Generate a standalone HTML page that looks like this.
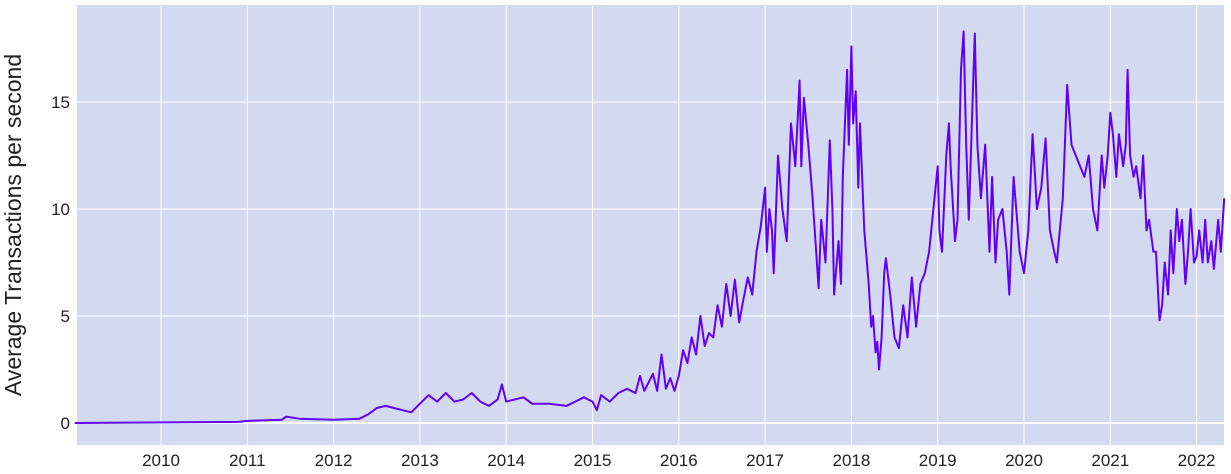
<!DOCTYPE html>
<html><head><meta charset="utf-8"><style>
body{margin:0;background:#fff;font-family:"Liberation Sans",sans-serif;}
svg{display:block}
</style></head><body>
<svg id="chart" width="1231" height="474">
<rect x="77" y="5" width="1147" height="440" fill="#d3d9ee"/>
<g id="grid"></g><g id="series"></g><g id="axes"></g>
<text transform="translate(21,225) rotate(-90)" text-anchor="middle" font-size="23" fill="#222">Average Transactions per second</text>
</svg>
<script>
const years=[2009.0,2010.9,2011.0,2011.4,2011.45,2011.6,2012.0,2012.3,2012.4,2012.5,2012.6,2012.8,2012.9,2013.0,2013.1,2013.2,2013.3,2013.4,2013.5,2013.6,2013.7,2013.8,2013.9,2013.95,2014.0,2014.2,2014.3,2014.5,2014.7,2014.9,2015.0,2015.05,2015.1,2015.2,2015.3,2015.4,2015.5,2015.55,2015.6,2015.7,2015.75,2015.8,2015.85,2015.9,2015.95,2016.0,2016.05,2016.1,2016.15,2016.2,2016.25,2016.3,2016.35,2016.4,2016.45,2016.5,2016.55,2016.6,2016.65,2016.7,2016.75,2016.8,2016.85,2016.9,2016.95,2017.0,2017.02,2017.05,2017.08,2017.1,2017.15,2017.2,2017.25,2017.3,2017.35,2017.4,2017.42,2017.45,2017.5,2017.55,2017.6,2017.62,2017.65,2017.7,2017.75,2017.78,2017.8,2017.85,2017.88,2017.9,2017.95,2017.97,2018.0,2018.02,2018.05,2018.08,2018.1,2018.15,2018.2,2018.23,2018.25,2018.28,2018.3,2018.32,2018.35,2018.38,2018.4,2018.45,2018.5,2018.55,2018.6,2018.65,2018.7,2018.75,2018.8,2018.85,2018.9,2018.95,2019.0,2019.02,2019.05,2019.1,2019.13,2019.15,2019.2,2019.23,2019.27,2019.3,2019.33,2019.36,2019.4,2019.43,2019.46,2019.5,2019.55,2019.6,2019.63,2019.67,2019.7,2019.75,2019.8,2019.83,2019.88,2019.92,2019.95,2020.0,2020.05,2020.1,2020.15,2020.2,2020.25,2020.3,2020.35,2020.38,2020.45,2020.5,2020.55,2020.6,2020.65,2020.7,2020.75,2020.8,2020.85,2020.9,2020.93,2020.97,2021.0,2021.03,2021.07,2021.1,2021.15,2021.18,2021.2,2021.23,2021.27,2021.3,2021.35,2021.38,2021.42,2021.45,2021.5,2021.53,2021.57,2021.6,2021.63,2021.67,2021.7,2021.73,2021.77,2021.8,2021.83,2021.87,2021.9,2021.93,2021.97,2022.0,2022.03,2022.07,2022.1,2022.13,2022.17,2022.2,2022.25,2022.28,2022.32];
const tps=[0,0.05,0.1,0.15,0.3,0.2,0.15,0.2,0.4,0.7,0.8,0.6,0.5,0.9,1.3,1.0,1.4,1.0,1.1,1.4,1.0,0.8,1.1,1.8,1.0,1.2,0.9,0.9,0.8,1.2,1.0,0.6,1.3,1.0,1.4,1.6,1.4,2.2,1.5,2.3,1.5,3.2,1.6,2.1,1.5,2.2,3.4,2.8,4.0,3.2,5.0,3.6,4.2,4.0,5.5,4.5,6.5,5.0,6.7,4.7,5.8,6.8,6.0,8.0,9.2,11.0,8.0,10.0,9.0,7.0,12.5,10.0,8.5,14.0,12.0,16.0,12.0,15.2,13.0,10.5,7.5,6.3,9.5,7.5,13.2,10.0,6.0,8.5,6.5,11.5,16.5,13.0,17.6,14.0,15.5,11.0,14.0,9.0,6.5,4.5,5.0,3.3,3.8,2.5,4.0,7.0,7.7,6.0,4.0,3.5,5.5,4.0,6.8,4.5,6.5,7.0,8.0,10.0,12.0,9.0,8.0,12.5,14.0,12.0,8.5,9.5,16.5,18.3,13.0,9.5,14.5,18.2,13.0,10.5,13.0,8.0,11.5,7.5,9.5,10.0,8.0,6.0,11.5,9.5,8.0,7.0,9.0,13.5,10.0,11.0,13.3,9.0,8.0,7.5,10.5,15.8,13.0,12.5,12.0,11.5,12.5,10.0,9.0,12.5,11.0,12.5,14.5,13.5,11.5,13.5,12.0,13.0,16.5,12.5,11.5,12.0,10.5,12.5,9.0,9.5,8.0,8.0,4.8,5.5,7.5,6.0,9.0,7.0,10.0,8.5,9.5,6.5,8.0,10.0,7.5,7.8,9.0,7.5,9.5,7.5,8.5,7.2,9.5,8.0,10.5];
const xTicks=[2010,2011,2012,2013,2014,2015,2016,2017,2018,2019,2020,2021,2022];
const yTicks=[0,5,10,15];
const NS="http://www.w3.org/2000/svg";
const X0=77,X1=1224,Y0=5,Y1=445;
const xS=v=>161+(v-2010)*86.3;
const yS=v=>423-v*21.4;
const grid=document.getElementById('grid'),axes=document.getElementById('axes'),ser=document.getElementById('series');
function mk(tag,attrs,parent){const e=document.createElementNS(NS,tag);for(const k in attrs)e.setAttribute(k,attrs[k]);parent.appendChild(e);return e;}
xTicks.forEach(t=>{const x=xS(t);
const l=mk('line',{x1:x,x2:x,y1:Y0,y2:Y1,stroke:'#fff','stroke-width':1},grid);


const tx=mk('text',{x:x,y:466,'text-anchor':'middle','font-size':17,fill:'#222'},axes);tx.textContent=t;

});
yTicks.forEach(t=>{const y=yS(t);
const l=mk('line',{x1:X0,x2:X1,y1:y,y2:y,stroke:'#fff','stroke-width':t===0?2:1},grid);


const tx=mk('text',{x:70,y:y+6,'text-anchor':'end','font-size':17,fill:'#222'},axes);tx.textContent=t;

});
const d=years.map((v,i)=>(i?'L':'M')+xS(v).toFixed(1)+','+yS(tps[i]).toFixed(1)).join('');
const p=mk('path',{d:d,fill:'none',stroke:'#6200f5','stroke-width':2,'stroke-linejoin':'round'},ser);


</script>
</body></html>
